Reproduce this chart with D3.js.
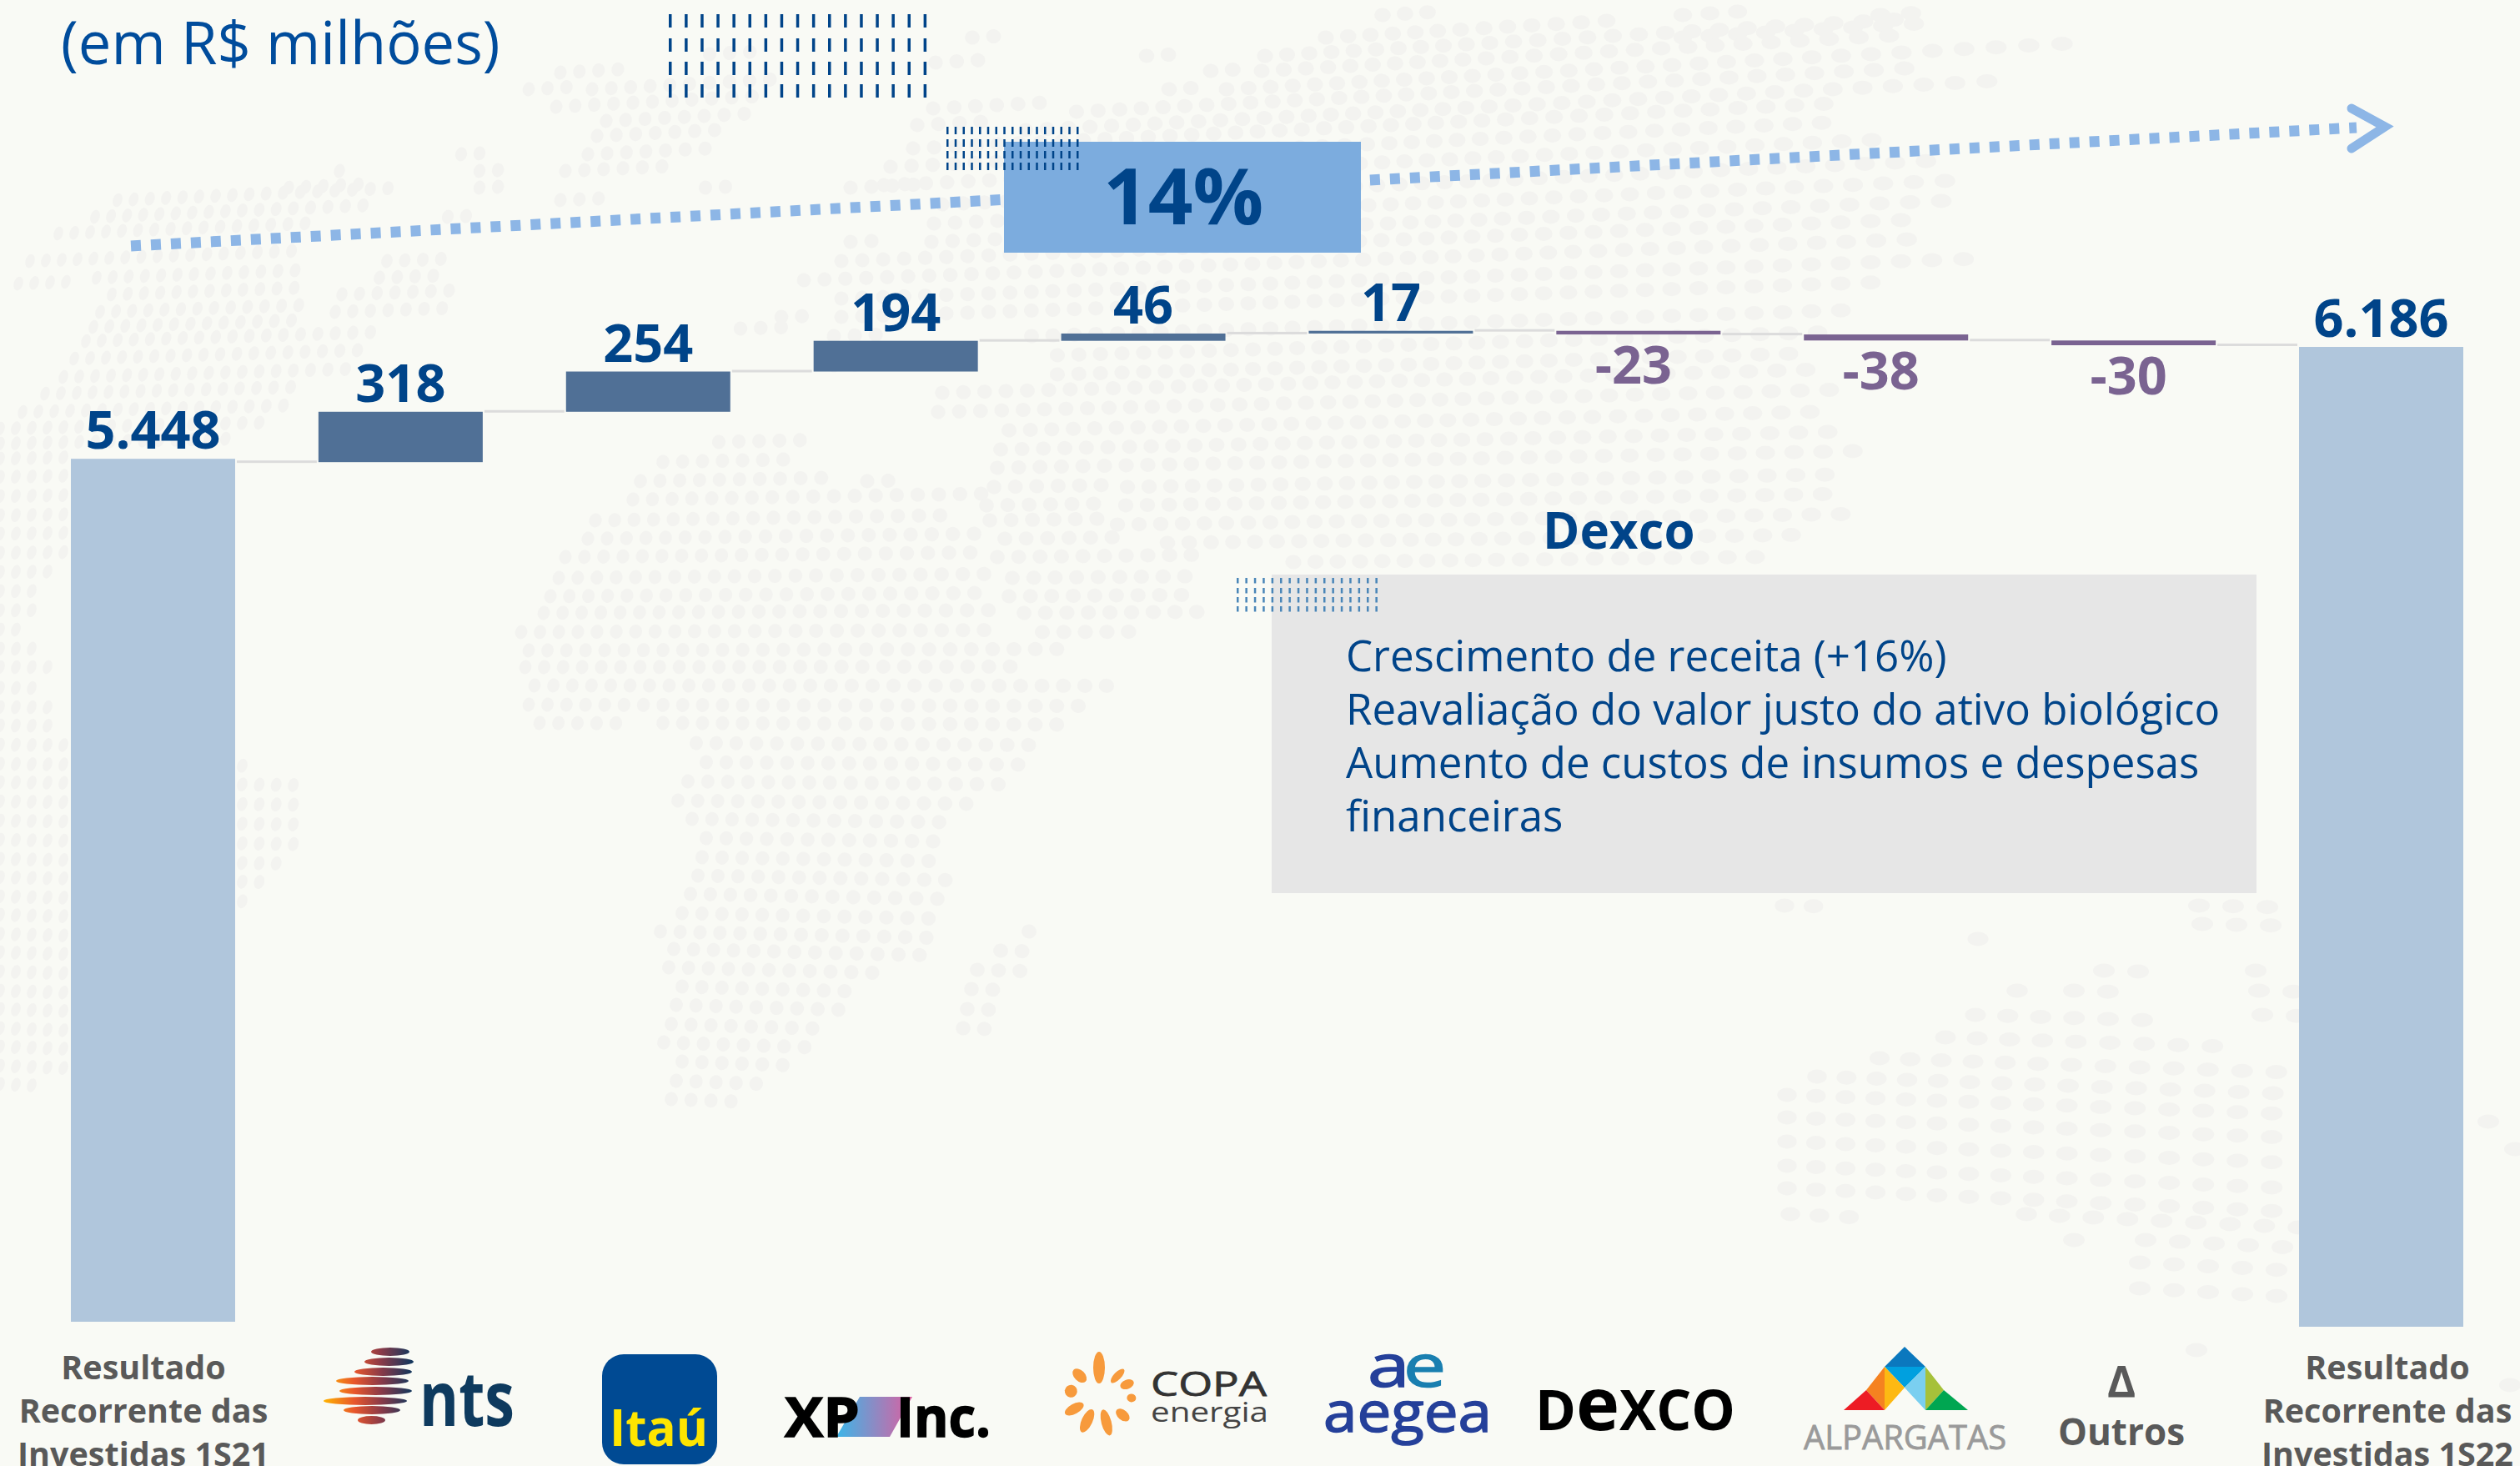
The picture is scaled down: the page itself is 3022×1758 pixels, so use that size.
<!DOCTYPE html>
<html lang="pt-BR">
<head>
<meta charset="utf-8">
<title>Resultado Recorrente das Investidas</title>
<script src="https://cdn.jsdelivr.net/npm/d3@7"></script>
<style>
  html, body { margin: 0; padding: 0; background: #f9faf5; overflow: hidden; }
  svg { display: block; }
  text { font-family: "Open Sans", sans-serif; }
</style>
</head>
<body>
<svg id="chart" width="3022" height="1758"></svg>
<script>
// Chart values
const categories = ["1S21", "NTS", "Itaú", "XP Inc.", "Copa Energia", "Aegea", "Dexco", "Alpargatas", "Outros", "1S22"];
const values = [5448, 318, 254, 194, 46, 17, -23, -38, -30, 6186];
const valueLabels = ["5.448", "318", "254", "194", "46", "17", "-23", "-38", "-30", "6.186"];
const totalCategories = ["1S21", "1S22"];
const growthLabel = "14%";
const noteTitle = "Dexco";
const noteLines = [
  "Crescimento de receita (+16%)",
  "Reavaliação do valor justo do ativo biológico",
  "Aumento de custos de insumos e despesas",
  "financeiras"
];
const totalLabelLines = ["Resultado", "Recorrente das"];

const colors = {
  total: "#b0c6dc", up: "#507096", down: "#7a6391", connector: "#dcdcdc",
  navy: "#004489", title: "#004c9c", gray: "#595959", growth: "#7cacde", arrow: "#8db6e6",
  box: "#e6e6e6", dot: "#f3f3f0"
};

let svg = d3.select("#chart");

// ****************** background map ***************************
// Rows of the dotted world map: [row y, first x, last x]
const mapRows = [
  [18,1658,1735],[18,2018,2087],[18,2255,2300],[45,1166,1198],[45,1590,1930],[45,2018,2300],
  [65,851,911],[67,1375,1406],[67,1517,2300],[75,1122,1193],[87,672,748],[85,1452,1490],[85,1513,2300],
  [107,634,694],[107,710,933],[107,1402,1437],[107,1471,2485],[128,667,905],[130,1119,1253],[134,1291,2300],
  [145,727,900],[150,1100,1200],[156,1230,2420],[163,716,878],[178,1095,2195],[185,553,596],[185,705,857],
  [200,1068,2190],[205,407,428],[205,575,618],[205,678,797],[222,1060,2255],[225,346,430],[225,575,618],
  [225,846,889],[225,1020,1112],[240,141,477],[240,672,727],[245,1130,2315],[260,114,455],[260,537,580],
  [268,1120,2350],[280,70,369],[290,1020,1068],[290,1117,2350],[313,36,370],[313,464,535],[313,1009,2290],
  [333,116,362],[333,455,527],[336,964,2290],[340,22,85],[353,134,366],[353,410,549],[358,1009,2370],
  [374,120,370],[374,402,540],[380,937,982],[380,1009,2265],[392,112,362],[394,888,946],[403,1000,1060],
  [403,1237,2240],[409,103,446],[426,1268,2200],[430,89,437],[438,1000,1080],[449,1268,2179],[452,76,420],
  [471,1130,2190],[472,54,366],[494,27,340],[494,1125,2201],[514,0,312],[516,1210,2205],[530,862,960],
  [532,0,272],[539,1200,2209],[550,0,85],[554,795,955],[561,1196,2240],[572,0,85],[577,768,987],[577,1040,1076],
  [584,1192,1330],[584,1352,2213],[595,0,85],[599,759,1178],[606,1183,1321],[606,1350,2213],[618,0,85],
  [624,714,1152],[624,1187,1321],[629,1340,2213],[640,0,85],[646,705,1170],[646,1205,1340],[651,1400,2171],
  [663,0,85],[668,678,1165],[668,1196,1433],[674,1551,2118],[686,0,60],[693,670,1183],[693,1214,1440],
  [709,0,50],[715,660,1178],[715,1210,1440],[732,0,40],[735,652,1196],[735,1228,1440],[755,0,30],
  [758,625,1192],[758,1250,1366],[778,0,40],[780,634,1286],[800,0,60],[800,630,1232],[822,641,1330],
  [825,0,50],[845,634,1300],[848,0,70],[867,647,745],[867,795,1290],[870,0,70],[891,835,1259],[893,0,100],
  [914,847,1230],[916,0,310],[937,825,1198],[938,0,366],[960,813,1170],[961,0,370],[982,830,1130],[984,0,365],
  [1005,847,1128],[1007,0,360],[1028,842,1125],[1030,0,350],[1050,837,1136],[1052,0,325],[1072,828,1136],
  [1075,0,300],[1086,2140,2197],[1086,2637,2752],[1095,818,1132],[1097,0,290],[1108,2641,2752],[1117,792,1128],
  [1117,1234,1240],[1120,0,85],[1126,2372,2380],[1138,808,1122],[1140,1200,1228],[1142,0,85],[1160,802,1065],
  [1163,1172,1226],[1164,2523,2590],[1164,2705,2712],[1165,0,85],[1183,818,1032],[1186,1165,1193],[1188,0,85],
  [1188,2419,2425],[1188,2487,2555],[1188,2709,2759],[1205,811,1028],[1210,1160,1188],[1210,0,85],[1217,2369,2598],
  [1217,2713,2759],[1228,805,990],[1233,0,85],[1233,1155,1183],[1244,2333,2680],[1250,796,985],[1255,0,85],
  [1269,2254,2759],[1273,818,950],[1278,0,85],[1291,2179,2759],[1296,811,920],[1300,0,45],[1313,2143,2759],
  [1318,805,885],[1340,2143,2759],[1345,2984,2990],[1369,2143,2759],[1378,3016,3022],[1398,2143,2759],
  [1425,2143,2759],[1456,2147,2250],[1456,2430,2759],[1487,2487,2493],[1487,2573,2759],[1514,2566,2759],
  [1545,2566,2740],[1619,2634,2640],[1661,3010,3016]
];

// the dots get wider and rounder towards the right of the map
let dotPitch = d3.scaleLinear().domain([100, 1000, 1700, 2500]).range([19, 25, 27, 41]).clamp(true);
let dotRx = d3.scaleLinear().domain([100, 1000, 1700, 2500]).range([5.5, 8.5, 10, 13]).clamp(true);
let dotTilt = d3.scaleLinear().domain([100, 1000, 1800]).range([18, 12, 0]).clamp(true);
let rowSlope = d3.scaleLinear().domain([100, 1400]).range([-0.055, 0.045]);

let mapDots = [];
mapRows.forEach(([y, x0, x1]) => {
  let x = x0;
  while (x <= x1) {
    mapDots.push({x: x, y: y + rowSlope(y) * (x - x0)});
    x += dotPitch(x);
  }
});

svg.append("g").selectAll("ellipse")
  .data(mapDots)
  .join("ellipse")
    .attr("cx", d => d.x)
    .attr("cy", d => d.y)
    .attr("rx", d => dotRx(d.x))
    .attr("ry", 8.5)
    .attr("transform", d => `rotate(${dotTilt(d.x)}, ${d.x}, ${d.y})`)
    .attr("fill", colors.dot);

// ****************** scales ***************************
let x = d3.scaleBand()
  .domain(categories)
  .range([85, 2954])
  .paddingInner(0.3365)
  .paddingOuter(0);

let y = d3.scaleLinear()
  .domain([0, 6186])
  .range([1591, 416]);

// Work out the floating bars of the waterfall
let running = 0;
let steps = categories.map((c, i) => {
  let isTotal = totalCategories.includes(c);
  let start = isTotal ? 0 : running;
  let end = isTotal ? values[i] : running + values[i];
  running = end;
  return {category: c, value: values[i], label: valueLabels[i], start, end, isTotal, i};
});

// the original slide has the first column and the steps sitting a little higher
function shift(d) {
  if (d.i === 0) return -6;
  return d.isTotal ? 0 : -2;
}

// ****************** connectors ***************************
svg.append("g").selectAll("rect")
  .data(steps.slice(0, -1))
  .join("rect")
    .attr("x", d => x(d.category) + x.bandwidth() + 2)
    .attr("width", x.step() - x.bandwidth() - 4)
    .attr("y", d => y(d.end) - 4)
    .attr("height", 3)
    .attr("fill", colors.connector);

// ****************** bars ***************************
svg.append("g").selectAll("rect")
  .data(steps)
  .join("rect")
    .attr("x", d => x(d.category))
    .attr("width", x.bandwidth())
    .attr("y", d => Math.min(y(d.start), y(d.end)) + shift(d))
    .attr("height", d => Math.abs(y(d.start) - y(d.end)))
    .attr("fill", d => d.isTotal ? colors.total : d.value >= 0 ? colors.up : colors.down);

// ****************** value labels ***************************
svg.append("g").selectAll("text")
  .data(steps)
  .join("text")
    .attr("x", d => x(d.category) + x.bandwidth() / 2 - (d.value < 0 ? 6 : 0))
    .attr("y", d => d.value >= 0
      ? y(d.end) + shift(d) - 12
      : y(d.end) + shift(d) + 59)
    .attr("text-anchor", "middle")
    .attr("font-size", 63)
    .attr("font-weight", 700)
    .attr("fill", d => d.value >= 0 ? colors.navy : colors.down)
    .text(d => d.label);

// ****************** title and decorations ***************************
svg.append("text")
  .attr("x", 73).attr("y", 77)
  .attr("font-size", 70.5)
  .attr("fill", colors.title)
  .text("(em R$ milhões)");

// little blocks of vertical dashes
function dashBlock(x0, pitch, rowTops, tickH, tickW, color) {
  let g = svg.append("g").attr("fill", color);
  rowTops.forEach(top => {
    d3.range(17).forEach(i => {
      g.append("rect")
        .attr("x", x0 + i * pitch)
        .attr("y", top)
        .attr("width", tickW)
        .attr("height", tickH);
    });
  });
}
dashBlock(802, 19.1, [17, 46, 74, 101], 16, 3.5, colors.navy);

// growth arrow passes behind the 14% box
svg.append("line")
  .attr("x1", 157).attr("y1", 295)
  .attr("x2", 2826).attr("y2", 153)
  .attr("stroke", colors.arrow)
  .attr("stroke-width", 13)
  .attr("stroke-dasharray", "12 12");
svg.append("path")
  .attr("d", "M2820,130 L2860,152 L2820,178")
  .attr("fill", "none")
  .attr("stroke", colors.arrow)
  .attr("stroke-width", 11)
  .attr("stroke-linecap", "round");

svg.append("rect")
  .attr("x", 1204).attr("y", 170)
  .attr("width", 428).attr("height", 133)
  .attr("fill", colors.growth);
svg.append("text")
  .attr("x", 1419).attr("y", 269)
  .attr("text-anchor", "middle")
  .attr("font-size", 94)
  .attr("font-weight", 700)
  .attr("fill", colors.navy)
  .text(growthLabel);
dashBlock(1135, 9.75, [152, 167, 181, 195], 9, 2.5, colors.navy);

// ****************** Dexco note ***************************
svg.append("text")
  .attr("x", 1850).attr("y", 658)
  .attr("font-size", 60)
  .attr("font-weight", 700)
  .attr("fill", colors.navy)
  .text(noteTitle);
svg.append("rect")
  .attr("x", 1525).attr("y", 689)
  .attr("width", 1181).attr("height", 382)
  .attr("fill", colors.box);
dashBlock(1483, 10.4, [693, 705, 716, 727], 6.5, 2.5, "#4a86b8");
svg.append("g").selectAll("text")
  .data(noteLines)
  .join("text")
    .attr("x", 1614)
    .attr("y", (d, i) => 805 + i * 64)
    .attr("font-size", 51)
    .attr("fill", colors.navy)
    .text(d => d);

// ****************** category row ***************************
function totalLabel(cx, period) {
  let g = svg.append("g")
    .attr("text-anchor", "middle")
    .attr("font-size", 39.5)
    .attr("font-weight", 700)
    .attr("fill", colors.gray);
  totalLabelLines.concat(["Investidas " + period]).forEach((line, i) => {
    g.append("text").attr("x", cx).attr("y", 1654 + i * 52).text(line);
  });
}
totalLabel(172, "1S21");
totalLabel(2863, "1S22");

// stretched text helper for the logos
function logoText(parent, str, x0, base, size, len, weight, fill, family) {
  return parent.append("text")
    .attr("x", x0).attr("y", base)
    .attr("font-size", size)
    .attr("font-weight", weight)
    .attr("font-family", family || "'Liberation Sans', sans-serif")
    .attr("fill", fill)
    .attr("textLength", len)
    .attr("lengthAdjust", "spacingAndGlyphs")
    .text(str);
}

let defs = svg.append("defs");

function hGradient(id, x1, x2, stops) {
  let g = defs.append("linearGradient")
    .attr("id", id)
    .attr("gradientUnits", "userSpaceOnUse")
    .attr("x1", x1).attr("x2", x2).attr("y1", 0).attr("y2", 0);
  stops.forEach(([o, c]) => g.append("stop").attr("offset", o).attr("stop-color", c));
}

// NTS
hGradient("ntsGrad", 388, 494, [[0, "#ffb300"], [0.35, "#e8562c"], [0.65, "#8a3a48"], [1, "#12365c"]]);
let nts = svg.append("g");
[[445, 491, 1621], [437, 496, 1633], [425, 494, 1645], [403, 490, 1656],
 [407, 494, 1668], [388, 488, 1680], [412, 480, 1691], [429, 462, 1703]].forEach(([a, b, cy]) => {
  nts.append("ellipse")
    .attr("cx", (a + b) / 2).attr("cy", cy)
    .attr("rx", (b - a) / 2).attr("ry", 5)
    .attr("fill", "url(#ntsGrad)");
});
logoText(nts, "nts", 503, 1710, 92, 114, 700, "#0e3a5e", "'Lato', sans-serif");

// Itaú
let itau = svg.append("g");
itau.append("rect")
  .attr("x", 722).attr("y", 1624)
  .attr("width", 138).attr("height", 132)
  .attr("rx", 26)
  .attr("fill", "#004a93");
logoText(itau, "Itaú", 731, 1734, 60, 118, 700, "#ffe500", "'Open Sans', sans-serif");

// XP Inc.
hGradient("xpGrad", 1003, 1094, [[0, "#3cb6e8"], [1, "#dc5fa0"]]);
let xp = svg.append("g");
xp.append("path").attr("d", "M1003,1723 L1031,1675 L1094,1675 L1067,1723 Z").attr("fill", "url(#xpGrad)");
logoText(xp, "XP", 941, 1723, 67, 90, 700, "#000").attr("stroke", "#000").attr("stroke-width", 1.5);
logoText(xp, "Inc.", 1075, 1723, 67, 113, 700, "#000").attr("stroke", "#000").attr("stroke-width", 1.5);

// Copa energia
let copa = svg.append("g");
[[0, 33, 38, 14], [44, 32, 22, 9], [69, 36, 17, 11], [95, 39, 11, 10], [130, 37, 19, 12],
 [165, 34, 32, 12], [205, 34, 30, 13], [241, 34, 25, 12], [278, 34, 15, 15], [315, 33, 20, 13]].forEach(([angle, r, len, w]) => {
  copa.append("ellipse")
    .attr("cx", 1318).attr("cy", 1673 - r)
    .attr("rx", w / 2).attr("ry", len / 2)
    .attr("transform", `rotate(${angle}, 1318, 1673)`)
    .attr("fill", "#f79a3c");
});
logoText(copa, "COPA", 1380, 1674, 41, 139, 400, "#333").attr("stroke", "#333").attr("stroke-width", 0.8);
logoText(copa, "energia", 1380, 1705, 32, 141, 400, "#444");

// Aegea
let aegea = svg.append("g");
let aeMark = logoText(aegea, "", 1640, 1663, 72, 94, 400, "#25409a", "'Open Sans', sans-serif")
  .attr("stroke", "#25409a").attr("stroke-width", 1.5);
aeMark.append("tspan").text("a");
aeMark.append("tspan").attr("fill", "#1a7fb0").attr("stroke", "#1a7fb0").attr("dx", -6).text("e");
logoText(aegea, "aegea", 1587, 1717, 68, 202, 400, "#25409a", "'Open Sans', sans-serif")
  .attr("stroke", "#25409a").attr("stroke-width", 1.5);

// Dexco
let dexco = svg.append("g");
let dexcoText = dexco.append("text")
  .attr("x", 1841).attr("y", 1715)
  .attr("font-family", "'Liberation Sans', sans-serif")
  .attr("font-weight", 700)
  .attr("fill", "#000")
  .attr("textLength", 240)
  .attr("lengthAdjust", "spacingAndGlyphs");
dexcoText.append("tspan").attr("font-size", 66).text("D");
dexcoText.append("tspan").attr("font-size", 88).text("e");
dexcoText.append("tspan").attr("font-size", 66).text("XCO");

// Alpargatas
let alp = svg.append("g");
[["2284,1615 2260,1639 2309,1639", "#0b78be"],
 ["2260,1639 2309,1639 2284,1664", "#00a0df"],
 ["2260,1639 2238,1667 2260,1691", "#f58220"],
 ["2211,1691 2238,1667 2260,1691", "#ed1c24"],
 ["2260,1639 2284,1664 2260,1691", "#fdb913"],
 ["2309,1639 2331,1667 2309,1691", "#a6c13a"],
 ["2309,1639 2284,1664 2309,1691", "#7acff0"],
 ["2360,1691 2331,1667 2309,1691", "#00a651"]].forEach(([pts, fill]) => {
  alp.append("polygon").attr("points", pts).attr("fill", fill);
});
logoText(alp, "ALPARGATAS", 2163, 1738, 41, 243, 400, "#9a9a9a").attr("stroke", "#9a9a9a").attr("stroke-width", 0.8);

// Outros
let outros = svg.append("g")
  .attr("text-anchor", "middle")
  .attr("font-weight", 700)
  .attr("fill", colors.gray);
outros.append("text").attr("x", 2544).attr("y", 1675).attr("font-size", 52).text("Δ");
outros.append("text").attr("x", 2544).attr("y", 1733).attr("font-size", 44).text("Outros");
</script>
</body>
</html>
